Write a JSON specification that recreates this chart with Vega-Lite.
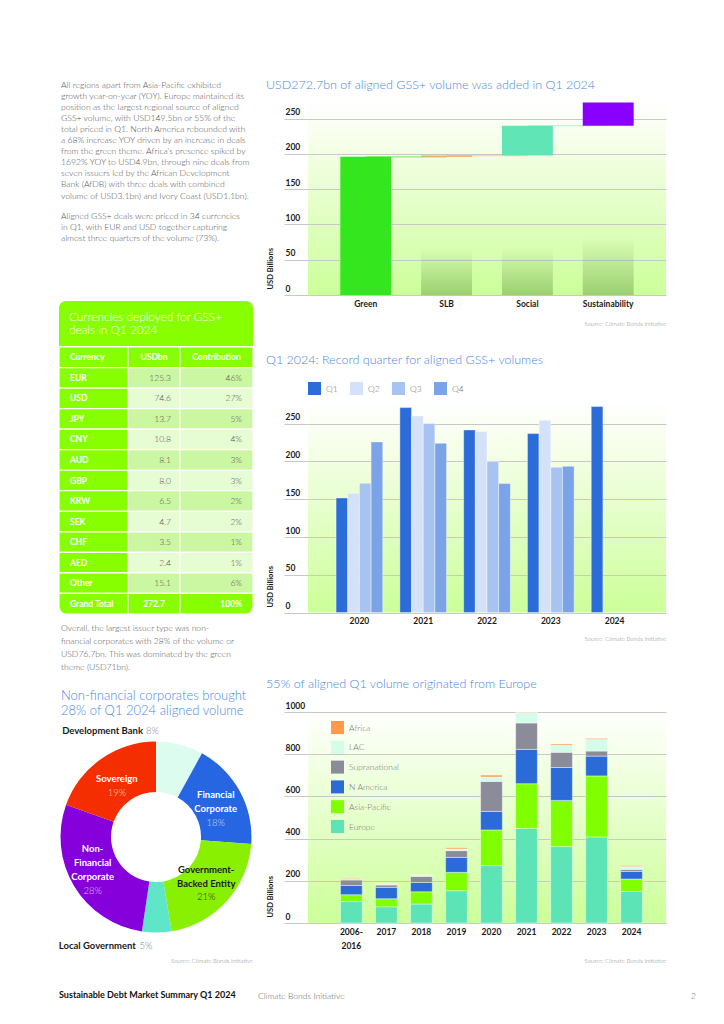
{
  "$schema": "https://vega.github.io/schema/vega-lite/v6.json",
  "background": "white",
  "padding": {"left": 58, "top": 50, "right": 0, "bottom": 0},
  "config": {
    "font": "Lato",
    "view": {"stroke": null},
    "title": {"font": "Lato", "subtitleFont": "Lato"},
    "axis": {"labelFont": "Lato", "titleFont": "Lato"},
    "legend": {"labelFont": "Lato"},
    "text": {"font": "Lato"}
  },
  "datasets": {
    "table": [
      {"row": "Currency", "usd": "USDbn", "pct": "Contribution", "kind": "head", "rank": 0},
      {"row": "EUR", "usd": "125.3", "pct": "46%", "kind": "body", "rank": 1},
      {"row": "USD", "usd": "74.6", "pct": "27%", "kind": "body", "rank": 2},
      {"row": "JPY", "usd": "13.7", "pct": "5%", "kind": "body", "rank": 3},
      {"row": "CNY", "usd": "10.8", "pct": "4%", "kind": "body", "rank": 4},
      {"row": "AUD", "usd": "8.1", "pct": "3%", "kind": "body", "rank": 5},
      {"row": "GBP", "usd": "8.0", "pct": "3%", "kind": "body", "rank": 6},
      {"row": "KRW", "usd": "6.5", "pct": "2%", "kind": "body", "rank": 7},
      {"row": "SEK", "usd": "4.7", "pct": "2%", "kind": "body", "rank": 8},
      {"row": "CHF", "usd": "3.5", "pct": "1%", "kind": "body", "rank": 9},
      {"row": "AED", "usd": "2.4", "pct": "1%", "kind": "body", "rank": 10},
      {"row": "Other", "usd": "15.1", "pct": "6%", "kind": "body", "rank": 11},
      {"row": "Grand Total", "usd": "272.7", "pct": "100%", "kind": "total", "rank": 12}
    ],
    "issuers": [
      {"type": "Development Bank", "name": "Development Bank", "pct": "8%", "value": 21.8, "order": 1},
      {"type": "Financial Corporate", "name": "Financial\nCorporate", "pct": "18%", "value": 49.6, "order": 2},
      {"type": "Government-Backed Entity", "name": "Government-\nBacked Entity", "pct": "21%", "value": 57.8, "order": 3},
      {"type": "Local Government", "name": "Local Government", "pct": "5%", "value": 13.6, "order": 4},
      {"type": "Non-Financial Corporate", "name": "Non-\nFinancial\nCorporate", "pct": "28%", "value": 76.7, "order": 5},
      {"type": "Sovereign", "name": "Sovereign", "pct": "19%", "value": 53.2, "order": 6}
    ],
    "waterfall": [
      {"cat": "Green", "start": 0, "end": 195.8, "next": "SLB"},
      {"cat": "SLB", "start": 195.8, "end": 197.7, "next": "Social"},
      {"cat": "Social", "start": 197.7, "end": 240.0, "next": "Sustainability"},
      {"cat": "Sustainability", "start": 240.0, "end": 272.7, "next": null}
    ],
    "quarters": [
      {"year": "2020", "q": "Q1", "v": 151.7}, {"year": "2020", "q": "Q2", "v": 157.9}, {"year": "2020", "q": "Q3", "v": 171.2}, {"year": "2020", "q": "Q4", "v": 225.9},
      {"year": "2021", "q": "Q1", "v": 271.3}, {"year": "2021", "q": "Q2", "v": 260.3}, {"year": "2021", "q": "Q3", "v": 250.1}, {"year": "2021", "q": "Q4", "v": 224.1},
      {"year": "2022", "q": "Q1", "v": 241.7}, {"year": "2022", "q": "Q2", "v": 239.5}, {"year": "2022", "q": "Q3", "v": 199.8}, {"year": "2022", "q": "Q4", "v": 170.7},
      {"year": "2023", "q": "Q1", "v": 236.9}, {"year": "2023", "q": "Q2", "v": 254.5}, {"year": "2023", "q": "Q3", "v": 192.3}, {"year": "2023", "q": "Q4", "v": 193.6},
      {"year": "2024", "q": "Q1", "v": 272.7}
    ],
    "regions": [
      {"year": "2006-2016", "region": "Europe", "order": 1, "v": 102}, {"year": "2006-2016", "region": "Asia-Pacific", "order": 2, "v": 32}, {"year": "2006-2016", "region": "N America", "order": 3, "v": 44}, {"year": "2006-2016", "region": "Supranational", "order": 4, "v": 26}, {"year": "2006-2016", "region": "LAC", "order": 5, "v": 3}, {"year": "2006-2016", "region": "Africa", "order": 6, "v": 4},
      {"year": "2017", "region": "Europe", "order": 1, "v": 77}, {"year": "2017", "region": "Asia-Pacific", "order": 2, "v": 38}, {"year": "2017", "region": "N America", "order": 3, "v": 54}, {"year": "2017", "region": "Supranational", "order": 4, "v": 11}, {"year": "2017", "region": "LAC", "order": 5, "v": 4}, {"year": "2017", "region": "Africa", "order": 6, "v": 1},
      {"year": "2018", "region": "Europe", "order": 1, "v": 90}, {"year": "2018", "region": "Asia-Pacific", "order": 2, "v": 58}, {"year": "2018", "region": "N America", "order": 3, "v": 44}, {"year": "2018", "region": "Supranational", "order": 4, "v": 29}, {"year": "2018", "region": "LAC", "order": 5, "v": 6}, {"year": "2018", "region": "Africa", "order": 6, "v": 1},
      {"year": "2019", "region": "Europe", "order": 1, "v": 153}, {"year": "2019", "region": "Asia-Pacific", "order": 2, "v": 87}, {"year": "2019", "region": "N America", "order": 3, "v": 71}, {"year": "2019", "region": "Supranational", "order": 4, "v": 32}, {"year": "2019", "region": "LAC", "order": 5, "v": 8}, {"year": "2019", "region": "Africa", "order": 6, "v": 6},
      {"year": "2020", "region": "Europe", "order": 1, "v": 272}, {"year": "2020", "region": "Asia-Pacific", "order": 2, "v": 169}, {"year": "2020", "region": "N America", "order": 3, "v": 88}, {"year": "2020", "region": "Supranational", "order": 4, "v": 142}, {"year": "2020", "region": "LAC", "order": 5, "v": 21}, {"year": "2020", "region": "Africa", "order": 6, "v": 9},
      {"year": "2021", "region": "Europe", "order": 1, "v": 448}, {"year": "2021", "region": "Asia-Pacific", "order": 2, "v": 212}, {"year": "2021", "region": "N America", "order": 3, "v": 163}, {"year": "2021", "region": "Supranational", "order": 4, "v": 125}, {"year": "2021", "region": "LAC", "order": 5, "v": 49}, {"year": "2021", "region": "Africa", "order": 6, "v": 2},
      {"year": "2022", "region": "Europe", "order": 1, "v": 362}, {"year": "2022", "region": "Asia-Pacific", "order": 2, "v": 219}, {"year": "2022", "region": "N America", "order": 3, "v": 156}, {"year": "2022", "region": "Supranational", "order": 4, "v": 72}, {"year": "2022", "region": "LAC", "order": 5, "v": 33}, {"year": "2022", "region": "Africa", "order": 6, "v": 6},
      {"year": "2023", "region": "Europe", "order": 1, "v": 408}, {"year": "2023", "region": "Asia-Pacific", "order": 2, "v": 289}, {"year": "2023", "region": "N America", "order": 3, "v": 94}, {"year": "2023", "region": "Supranational", "order": 4, "v": 24}, {"year": "2023", "region": "LAC", "order": 5, "v": 55}, {"year": "2023", "region": "Africa", "order": 6, "v": 5},
      {"year": "2024", "region": "Europe", "order": 1, "v": 149.5}, {"year": "2024", "region": "Asia-Pacific", "order": 2, "v": 59}, {"year": "2024", "region": "N America", "order": 3, "v": 36}, {"year": "2024", "region": "Supranational", "order": 4, "v": 9.5}, {"year": "2024", "region": "LAC", "order": 5, "v": 13.8}, {"year": "2024", "region": "Africa", "order": 6, "v": 4.9}
    ]
  },
  "resolve": {"scale": {"color": "independent", "fill": "independent", "stroke": "independent", "theta": "independent"}, "legend": {"color": "independent"}},
  "vconcat": [
    {
      "resolve": {"scale": {"color": "independent", "fill": "independent", "stroke": "independent", "theta": "independent"}, "legend": {"color": "independent"}},
      "hconcat": [
        {
          "resolve": {"scale": {"color": "independent", "fill": "independent", "theta": "independent"}, "legend": {"color": "independent"}},
          "vconcat": [
            {"width": 194, "height": 23, "data": {"values": []}, "mark": "point"},
            {
              "vconcat": [
                {
                  "width": 194,
                  "height": 45,
                  "title": {
                    "text": [
                      "All regions apart from Asia-Pacific exhibited",
                      "growth year-on-year (YOY). Europe maintained its",
                      "position as the largest regional source of aligned",
                      "GSS+ volume, with USD149.5bn or 55% of the",
                      "total priced in Q1. North America rebounded with",
                      "a 68% increase YOY driven by an increase in deals",
                      "from the green theme. Africa's presence spiked by",
                      "1692% YOY to USD4.9bn, through nine deals from",
                      "seven issuers led by the African Development",
                      "Bank (AfDB) with three deals with combined",
                      "volume of USD3.1bn) and Ivory Coast (USD1.1bn)."
                    ],
                    "subtitle": [
                      "Aligned GSS+ deals were priced in 34 currencies",
                      "in Q1, with EUR and USD together capturing",
                      "almost three quarters of the volume (73%)."
                    ],
                    "orient": "top", "anchor": "start", "frame": "group",
                    "fontSize": 8.6, "fontWeight": 300, "color": "#555555", "lineHeight": 11.1,
                    "subtitleFontSize": 8.6, "subtitleFontWeight": 300, "subtitleColor": "#555555", "subtitleLineHeight": 11.1, "subtitlePadding": 12,
                    "offset": 58, "dx": 2
                  },
                  "data": {"values": [{"heading": "Currencies deployed for GSS+\ndeals in Q1 2024"}]},
                  "resolve": {"scale": {"x": "independent"}},
                  "layer": [
                    {"mark": {"type": "rect", "fill": "#88ff00", "cornerRadiusTopLeft": 7, "cornerRadiusTopRight": 7}, "encoding": {}},
                    {
                      "mark": {"type": "text", "align": "left", "baseline": "middle", "dy": -6.5, "lineBreak": "\n", "lineHeight": 12.9, "fontSize": 11.8, "fontWeight": 300, "color": "white"},
                      "encoding": {
                        "text": {"field": "heading"},
                        "x": {"datum": 0, "type": "quantitative", "scale": {"domain": [-10, 184]}, "axis": null}
                      }
                    }
                  ]
                },
                {
                  "hconcat": [
                    {
                      "width": 69,
                      "height": 267,
                      "data": {"name": "table"},
                      "title": {
                        "text": [
                          "Overall, the largest issuer type was non-",
                          "financial corporates with 28% of the volume or",
                          "USD76.7bn.  This was dominated by the green",
                          "theme (USD71bn)."
                        ],
                        "subtitle": ["Non-financial corporates brought", "28% of Q1 2024 aligned volume"],
                        "orient": "bottom", "anchor": "start", "frame": "group",
                        "fontSize": 8.6, "fontWeight": 300, "color": "#555555", "lineHeight": 13, "offset": 9, "dx": 2,
                        "subtitleFontSize": 13, "subtitleFontWeight": 300, "subtitleColor": "#4a88e6", "subtitleLineHeight": 15, "subtitlePadding": 19
                      },
                      "encoding": {
                        "y": {"field": "row", "type": "nominal", "sort": null, "axis": null,
                              "scale": {"domain": ["Currency", "EUR", "USD", "JPY", "CNY", "AUD", "GBP", "KRW", "SEK", "CHF", "AED", "Other", "Grand Total"], "paddingInner": 0, "paddingOuter": 0}}
                      },
                      "resolve": {"scale": {"x": "independent"}},
                      "layer": [
                        {"transform": [{"filter": "datum.kind != 'total'"}], "mark": {"type": "rect", "fill": "#88ff00", "stroke": "white", "strokeWidth": 1.2}},
                        {"transform": [{"filter": "datum.kind == 'total'"}], "mark": {"type": "rect", "fill": "#88ff00", "stroke": "white", "strokeWidth": 1.2, "cornerRadiusBottomLeft": 7}},
                        {
                          "mark": {"type": "text", "align": "left", "baseline": "middle", "fontSize": 8.5, "fontWeight": "bold", "color": "white"},
                          "encoding": {
                            "text": {"field": "row"},
                            "x": {"datum": 0, "type": "quantitative", "scale": {"domain": [-11, 58]}, "axis": null}
                          }
                        }
                      ]
                    },
                    {
                      "width": 52,
                      "height": 267,
                      "data": {"name": "table"},
                      "encoding": {
                        "y": {"field": "row", "type": "nominal", "sort": null, "axis": null,
                              "scale": {"domain": ["Currency", "EUR", "USD", "JPY", "CNY", "AUD", "GBP", "KRW", "SEK", "CHF", "AED", "Other", "Grand Total"], "paddingInner": 0, "paddingOuter": 0}}
                      },
                      "resolve": {"scale": {"x": "independent"}},
                      "layer": [
                        {
                          "mark": {"type": "rect", "stroke": "white", "strokeWidth": 1.2},
                          "encoding": {
                            "fill": {"condition": [{"test": "datum.kind != 'body'", "value": "#88ff00"}, {"test": "datum.rank % 2 == 1", "value": "#cbf7a3"}], "value": "#e6fcd3"}
                          }
                        },
                        {
                          "transform": [{"filter": "datum.kind == 'body'"}],
                          "mark": {"type": "text", "align": "right", "baseline": "middle", "fontSize": 8.5, "fontWeight": 300, "color": "#555555"},
                          "encoding": {"text": {"field": "usd"}, "x": {"datum": 0, "type": "quantitative", "scale": {"domain": [-43, 9]}, "axis": null}}
                        },
                        {
                          "transform": [{"filter": "datum.kind != 'body'"}],
                          "mark": {"type": "text", "align": "center", "baseline": "middle", "fontSize": 8.5, "fontWeight": "bold", "color": "white"},
                          "encoding": {"text": {"field": "usd"}}
                        }
                      ]
                    },
                    {
                      "width": 73,
                      "height": 267,
                      "data": {"name": "table"},
                      "encoding": {
                        "y": {"field": "row", "type": "nominal", "sort": null, "axis": null,
                              "scale": {"domain": ["Currency", "EUR", "USD", "JPY", "CNY", "AUD", "GBP", "KRW", "SEK", "CHF", "AED", "Other", "Grand Total"], "paddingInner": 0, "paddingOuter": 0}}
                      },
                      "resolve": {"scale": {"x": "independent"}},
                      "layer": [
                        {
                          "transform": [{"filter": "datum.kind != 'total'"}],
                          "mark": {"type": "rect", "stroke": "white", "strokeWidth": 1.2},
                          "encoding": {
                            "fill": {"condition": [{"test": "datum.kind != 'body'", "value": "#88ff00"}, {"test": "datum.rank % 2 == 1", "value": "#cbf7a3"}], "value": "#e6fcd3"}
                          }
                        },
                        {"transform": [{"filter": "datum.kind == 'total'"}], "mark": {"type": "rect", "fill": "#88ff00", "stroke": "white", "strokeWidth": 1.2, "cornerRadiusBottomRight": 7}},
                        {
                          "transform": [{"filter": "datum.kind == 'body'"}],
                          "mark": {"type": "text", "align": "right", "baseline": "middle", "fontSize": 8.5, "fontWeight": 300, "color": "#555555"},
                          "encoding": {"text": {"field": "pct"}, "x": {"datum": 0, "type": "quantitative", "scale": {"domain": [-62, 11]}, "axis": null}}
                        },
                        {
                          "transform": [{"filter": "datum.kind == 'head'"}],
                          "mark": {"type": "text", "align": "center", "baseline": "middle", "fontSize": 8.5, "fontWeight": "bold", "color": "white"},
                          "encoding": {"text": {"field": "pct"}}
                        },
                        {
                          "transform": [{"filter": "datum.kind == 'total'"}],
                          "mark": {"type": "text", "align": "right", "baseline": "middle", "fontSize": 8.5, "fontWeight": "bold", "color": "white"},
                          "encoding": {"text": {"field": "pct"}, "x": {"datum": 0, "type": "quantitative", "scale": {"domain": [-62, 11]}, "axis": null}}
                        }
                      ]
                    }
                  ],
                  "spacing": 0,
                  "bounds": "flush"
                }
              ],
              "spacing": 0
            },
            {
              "width": 194,
              "height": 194,
              "data": {"name": "issuers"},
              "title": {"text": "Source: Climate Bonds Initiative", "orient": "bottom", "anchor": "end", "frame": "group", "fontSize": 6, "fontWeight": 300, "color": "#888888", "offset": 7},
              "encoding": {
                "theta": {"field": "value", "type": "quantitative", "stack": true},
                "order": {"field": "order", "type": "quantitative"}
              },
              "layer": [
                {
                  "mark": {"type": "arc", "innerRadius": 45, "outerRadius": 95.5},
                  "encoding": {
                    "color": {"field": "type", "type": "nominal", "legend": null,
                              "scale": {"domain": ["Development Bank", "Financial Corporate", "Government-Backed Entity", "Local Government", "Non-Financial Corporate", "Sovereign"],
                                        "range": ["#dcfcef", "#2766e2", "#88f000", "#5fe6c8", "#8600dc", "#f52e00"]}}
                  }
                },
                {
                  "mark": {"type": "text", "radius": 68, "baseline": "middle", "dy": -2, "fontSize": 9.5, "fontWeight": "bold", "color": "#ffffff"},
                  "encoding": {"text": {"field": "name", "condition": {"test": "datum.type != 'Sovereign'", "value": ""}}}
                },
                {
                  "mark": {"type": "text", "radius": 68, "baseline": "middle", "dy": 12, "fontSize": 9.5, "fontWeight": 300, "color": "#ffffff", "opacity": 0.7},
                  "encoding": {"text": {"field": "pct", "condition": {"test": "datum.type != 'Sovereign'", "value": ""}}}
                },
                {
                  "mark": {"type": "text", "radius": 68, "baseline": "middle", "dy": -10, "lineBreak": "\n", "lineHeight": 14, "fontSize": 9.5, "fontWeight": "bold", "color": "#ffffff"},
                  "encoding": {"text": {"field": "name", "condition": {"test": "datum.type != 'Financial Corporate'", "value": ""}}}
                },
                {
                  "mark": {"type": "text", "radius": 68, "baseline": "middle", "dy": 18, "fontSize": 9.5, "fontWeight": 300, "color": "#ffffff", "opacity": 0.7},
                  "encoding": {"text": {"field": "pct", "condition": {"test": "datum.type != 'Financial Corporate'", "value": ""}}}
                },
                {
                  "mark": {"type": "text", "radius": 68, "baseline": "middle", "dy": -13, "lineBreak": "\n", "lineHeight": 14, "fontSize": 9.5, "fontWeight": "bold", "color": "#1a1a1a"},
                  "encoding": {"text": {"field": "name", "condition": {"test": "datum.type != 'Government-Backed Entity'", "value": ""}}}
                },
                {
                  "mark": {"type": "text", "radius": 68, "baseline": "middle", "dy": 14, "fontSize": 9.5, "fontWeight": 300, "color": "#333333"},
                  "encoding": {"text": {"field": "pct", "condition": {"test": "datum.type != 'Government-Backed Entity'", "value": ""}}}
                },
                {
                  "mark": {"type": "text", "radius": 68, "baseline": "middle", "dy": -23, "dx": -5, "lineBreak": "\n", "lineHeight": 14, "fontSize": 9.5, "fontWeight": "bold", "color": "#ffffff"},
                  "encoding": {"text": {"field": "name", "condition": {"test": "datum.type != 'Non-Financial Corporate'", "value": ""}}}
                },
                {
                  "mark": {"type": "text", "radius": 68, "baseline": "middle", "dy": 19, "dx": -5, "fontSize": 9.5, "fontWeight": 300, "color": "#ffffff", "opacity": 0.7},
                  "encoding": {"text": {"field": "pct", "condition": {"test": "datum.type != 'Non-Financial Corporate'", "value": ""}}}
                },
                {
                  "transform": [
                    {"stack": "value", "groupby": [], "sort": [{"field": "order", "order": "ascending"}], "as": ["t0", "t1"]},
                    {"filter": "datum.type == 'Development Bank'"}
                  ],
                  "layer": [
                    {
                      "mark": {"type": "text", "radius": 109, "align": "right", "baseline": "middle", "dx": -13, "dy": 3, "fontSize": 9.5, "fontWeight": "bold", "color": "#1a1a1a"},
                      "encoding": {"theta": {"field": "t0", "type": "quantitative", "stack": null}, "text": {"field": "name"}}
                    },
                    {
                      "mark": {"type": "text", "radius": 109, "align": "right", "baseline": "middle", "dx": 3, "dy": 3, "fontSize": 9.5, "fontWeight": 300, "color": "#888888"},
                      "encoding": {"theta": {"field": "t0", "type": "quantitative", "stack": null}, "text": {"field": "pct"}}
                    }
                  ]
                },
                {
                  "transform": [
                    {"stack": "value", "groupby": [], "sort": [{"field": "order", "order": "ascending"}], "as": ["t0", "t1"]},
                    {"filter": "datum.type == 'Local Government'"}
                  ],
                  "layer": [
                    {
                      "mark": {"type": "text", "radius": 109, "align": "right", "baseline": "middle", "dx": -38, "dy": 1.5, "fontSize": 9.5, "fontWeight": "bold", "color": "#1a1a1a"},
                      "encoding": {"theta": {"field": "t0", "type": "quantitative", "stack": null}, "text": {"field": "name"}}
                    },
                    {
                      "mark": {"type": "text", "radius": 109, "align": "right", "baseline": "middle", "dx": -21.5, "dy": 1.5, "fontSize": 9.5, "fontWeight": 300, "color": "#888888"},
                      "encoding": {"theta": {"field": "t0", "type": "quantitative", "stack": null}, "text": {"field": "pct"}}
                    }
                  ]
                }
              ]
            }
          ],
          "spacing": 7
        },
        {
          "resolve": {"scale": {"color": "independent", "fill": "independent", "stroke": "independent"}, "legend": {"color": "independent"}},
          "vconcat": [
            {"width": 358, "height": 1, "data": {"values": []}, "mark": "point"},
            {
              "width": 358,
              "height": 194,
              "view": {"stroke": null, "fill": {"gradient": "linear", "x1": 0, "y1": 0, "x2": 0, "y2": 1, "stops": [{"offset": 0, "color": "#ffffff"}, {"offset": 0.15, "color": "#f9fef0"}, {"offset": 1, "color": "#ccff99"}]}},
              "title": {"text": "USD272.7bn of aligned GSS+ volume was added in Q1 2024", "anchor": "start", "frame": "bounds", "fontSize": 12.5, "fontWeight": 300, "color": "#4a88e6", "offset": 10},
              "data": {"name": "waterfall"},
              "encoding": {
                "x": {"field": "cat", "type": "nominal", "sort": null, "scale": {"domain": ["Green", "SLB", "Social", "Sustainability"], "paddingInner": 0.37, "paddingOuter": 0.4},
                      "axis": {"labelAngle": 0, "labelFontSize": 8.5, "labelFontWeight": "bold", "labelColor": "#1a1a1a", "labelPadding": 4, "ticks": false, "domain": false,
                               "title": "Source: Climate Bonds Initiative", "titleAnchor": "end", "titleFontSize": 6, "titleFontWeight": 300, "titleColor": "#888888", "titlePadding": 13}}
              },
              "layer": [
                {
                  "transform": [{"filter": "datum.start > 0"}],
                  "mark": {"type": "bar", "fill": {"gradient": "linear", "x1": 0, "y1": 0, "x2": 0, "y2": 1, "stops": [{"offset": 0, "color": "rgba(90,140,60,0)"}, {"offset": 0.66, "color": "rgba(90,140,60,0)"}, {"offset": 1, "color": "rgba(90,140,60,0.42)"}]}},
                  "encoding": {
                    "y": {"field": "start", "type": "quantitative", "scale": {"domain": [0, 275], "nice": false},
                          "axis": {"values": [0, 50, 100, 150, 200, 250], "grid": true, "gridColor": "#c8c8c8", "gridWidth": 1, "domain": false,
                                   "ticks": true, "tickSize": 24, "tickColor": "#c8c8c8", "tickWidth": 1,
                                   "labelAlign": "left", "labelPadding": -1, "labelBaseline": "alphabetic", "labelOffset": -4, "labelFlush": false, "labelOverlap": false,
                                   "labelFontSize": 8.5, "labelFontWeight": "bold", "labelColor": "#1a1a1a",
                                   "title": "USD Billions", "titleX": -38, "titleY": 188, "titleAngle": 270, "titleAlign": "left", "titleBaseline": "middle",
                                   "titleFontSize": 7.5, "titleFontWeight": "bold", "titleColor": "#1a1a1a"}},
                    "y2": {"datum": 0}
                  }
                },
                {
                  "transform": [{"filter": "datum.next != null"}],
                  "mark": {"type": "rule", "strokeWidth": 1.2},
                  "encoding": {
                    "x2": {"field": "next"},
                    "y": {"field": "end", "type": "quantitative",
                          "axis": {"values": [0, 50, 100, 150, 200, 250], "grid": true, "gridColor": "#c8c8c8", "gridWidth": 1, "domain": false,
                                   "ticks": true, "tickSize": 24, "tickColor": "#c8c8c8", "tickWidth": 1,
                                   "labelAlign": "left", "labelPadding": -1, "labelBaseline": "alphabetic", "labelOffset": -4, "labelFlush": false, "labelOverlap": false,
                                   "labelFontSize": 8.5, "labelFontWeight": "bold", "labelColor": "#1a1a1a",
                                   "title": "USD Billions", "titleX": -38, "titleY": 188, "titleAngle": 270, "titleAlign": "left", "titleBaseline": "middle",
                                   "titleFontSize": 7.5, "titleFontWeight": "bold", "titleColor": "#1a1a1a"}},
                    "stroke": {"field": "cat", "type": "nominal", "legend": null,
                               "scale": {"domain": ["Green", "SLB", "Social"], "range": ["#88ee77", "#f6d7b5", "#c3f3dc"]}}
                  }
                },
                {
                  "mark": {"type": "bar"},
                  "encoding": {
                    "y": {"field": "end", "type": "quantitative",
                          "axis": {"values": [0, 50, 100, 150, 200, 250], "grid": true, "gridColor": "#c8c8c8", "gridWidth": 1, "domain": false,
                                   "ticks": true, "tickSize": 24, "tickColor": "#c8c8c8", "tickWidth": 1,
                                   "labelAlign": "left", "labelPadding": -1, "labelBaseline": "alphabetic", "labelOffset": -4, "labelFlush": false, "labelOverlap": false,
                                   "labelFontSize": 8.5, "labelFontWeight": "bold", "labelColor": "#1a1a1a",
                                   "title": "USD Billions", "titleX": -38, "titleY": 188, "titleAngle": 270, "titleAlign": "left", "titleBaseline": "middle",
                                   "titleFontSize": 7.5, "titleFontWeight": "bold", "titleColor": "#1a1a1a"}},
                    "y2": {"field": "start"},
                    "fill": {"field": "cat", "type": "nominal", "legend": null,
                             "scale": {"domain": ["Green", "SLB", "Social", "Sustainability"], "range": ["#33e61e", "#f7a05c", "#5fe5b6", "#8a00ff"]}}
                  }
                }
              ]
            },
            {
              "width": 358,
              "height": 211.6,
              "view": {"stroke": null, "fill": {"gradient": "linear", "x1": 0, "y1": 0, "x2": 0, "y2": 1, "stops": [{"offset": 0, "color": "#ffffff"}, {"offset": 0.15, "color": "#f9fef0"}, {"offset": 1, "color": "#ccff99"}]}},
              "title": {"text": "Q1 2024: Record quarter for aligned GSS+ volumes", "anchor": "start", "frame": "bounds", "fontSize": 12.5, "fontWeight": 300, "color": "#4a88e6", "offset": 15.5},
              "data": {"name": "quarters"},
              "mark": {"type": "bar", "stroke": "#ffffff", "strokeWidth": 0.6, "strokeOpacity": 0.7},
              "encoding": {
                "x": {"field": "year", "type": "nominal", "sort": null, "scale": {"paddingInner": 0.268, "paddingOuter": 0.44},
                      "axis": {"labelAngle": 0, "labelFontSize": 8.5, "labelFontWeight": "bold", "labelColor": "#1a1a1a", "labelPadding": 4, "ticks": false, "domain": false,
                               "title": "Source: Climate Bonds Initiative", "titleAnchor": "end", "titleFontSize": 6, "titleFontWeight": 300, "titleColor": "#888888", "titlePadding": 10}},
                "xOffset": {"field": "q", "type": "nominal", "scale": {"domain": ["Q1", "Q2", "Q3", "Q4"], "paddingInner": 0}},
                "y": {"field": "v", "type": "quantitative", "scale": {"domain": [0, 280], "nice": false},
                      "axis": {"values": [0, 50, 100, 150, 200, 250], "grid": true, "gridColor": "#c8c8c8", "gridWidth": 1, "domain": false,
                               "ticks": true, "tickSize": 24, "tickColor": "#c8c8c8", "tickWidth": 1,
                               "labelAlign": "left", "labelPadding": -1, "labelBaseline": "alphabetic", "labelOffset": -4, "labelFlush": false, "labelOverlap": false,
                               "labelFontSize": 8.5, "labelFontWeight": "bold", "labelColor": "#1a1a1a",
                               "title": "USD Billions", "titleX": -38, "titleY": 206, "titleAngle": 270, "titleAlign": "left", "titleBaseline": "middle",
                               "titleFontSize": 7.5, "titleFontWeight": "bold", "titleColor": "#1a1a1a"}},
                "color": {"field": "q", "type": "nominal",
                          "scale": {"domain": ["Q1", "Q2", "Q3", "Q4"], "range": ["#2b6cd8", "#d3e2f8", "#a7c3f0", "#7aa3e8"]},
                          "legend": {"orient": "top", "direction": "horizontal", "title": null, "symbolType": "square", "symbolSize": 169, "symbolStrokeWidth": 0,
                                     "labelFontSize": 8.5, "labelFontWeight": 300, "labelColor": "#777777", "labelOffset": 5, "columnPadding": 12, "offset": 6, "padding": 0}}
              }
            },
            {
              "width": 358,
              "height": 211,
              "view": {"stroke": null, "fill": {"gradient": "linear", "x1": 0, "y1": 0, "x2": 0, "y2": 1, "stops": [{"offset": 0, "color": "#ffffff"}, {"offset": 0.1, "color": "#fafff3"}, {"offset": 1, "color": "#ccff99"}]}},
              "title": {"text": [" ", "55% of aligned Q1 volume originated from Europe"], "lineHeight": 8, "anchor": "start", "frame": "bounds", "fontSize": 12.5, "fontWeight": 300, "color": "#4a88e6", "offset": 11},
              "data": {"name": "regions"},
              "mark": {"type": "bar", "stroke": "#ffffff", "strokeWidth": 0.6, "strokeOpacity": 0.7},
              "encoding": {
                "x": {"field": "year", "type": "nominal", "sort": null, "scale": {"paddingInner": 0.38, "paddingOuter": 0.8, "align": 0.58},
                      "axis": {"labelAngle": 0, "labelFontSize": 8.5, "labelFontWeight": "bold", "labelColor": "#1a1a1a", "labelPadding": 4, "ticks": false, "domain": false,
                               "labelExpr": "datum.value == '2006-2016' ? ['2006-', '2016'] : datum.value", "labelLineHeight": 14,
                               "title": "Source: Climate Bonds Initiative", "titleAnchor": "end", "titleFontSize": 6, "titleFontWeight": 300, "titleColor": "#888888", "titlePadding": 8}},
                "y": {"field": "v", "type": "quantitative", "stack": "zero", "scale": {"domain": [0, 1000], "nice": false},
                      "axis": {"values": [0, 200, 400, 600, 800, 1000], "format": "d", "grid": true, "gridColor": "#c8c8c8", "gridWidth": 1, "domain": false,
                               "ticks": true, "tickSize": 24, "tickColor": "#c8c8c8", "tickWidth": 1,
                               "labelAlign": "left", "labelPadding": -1, "labelBaseline": "alphabetic", "labelOffset": -4, "labelFlush": false, "labelOverlap": false,
                               "labelFontSize": 8.5, "labelFontWeight": "bold", "labelColor": "#1a1a1a",
                               "title": "USD Billions", "titleX": -38, "titleY": 205, "titleAngle": 270, "titleAlign": "left", "titleBaseline": "middle",
                               "titleFontSize": 7.5, "titleFontWeight": "bold", "titleColor": "#1a1a1a"}},
                "order": {"field": "order", "type": "quantitative"},
                "color": {"field": "region", "type": "nominal",
                          "scale": {"domain": ["Africa", "LAC", "Supranational", "N America", "Asia-Pacific", "Europe"], "range": ["#ff9a4d", "#d3fde9", "#8b8b99", "#2a6bd7", "#80ff00", "#5ce4b6"]},
                          "legend": {"orient": "none", "legendX": 23, "legendY": 9, "title": null, "symbolType": "square", "symbolSize": 169, "symbolStrokeWidth": 0,
                                     "labelFontSize": 8.5, "labelFontWeight": 300, "labelColor": "#777777", "labelOffset": 5, "rowPadding": 6.8, "padding": 0}}
              }
            }
          ],
          "spacing": 27
        }
      ],
      "spacing": 12
    },
    {
      "hconcat": [
        {"width": 193, "height": 1, "data": {"values": []}, "mark": "point",
         "title": {"text": "Sustainable Debt Market Summary Q1 2024", "anchor": "start", "frame": "group", "fontSize": 9, "fontWeight": "bold", "color": "#111111", "offset": 0}},
        {"width": 427, "height": 1, "data": {"values": []}, "mark": "point",
         "title": {"text": "Climate Bonds Initiative", "anchor": "start", "frame": "group", "fontSize": 8.5, "fontWeight": 300, "color": "#666666", "offset": 0}},
        {"width": 20, "height": 1, "data": {"values": []}, "mark": "point",
         "title": {"text": "2", "anchor": "start", "frame": "group", "fontSize": 8.5, "fontWeight": 300, "color": "#666666", "offset": 0}}
      ],
      "spacing": 6,
      "bounds": "flush"
    }
  ],
  "spacing": 27
}
